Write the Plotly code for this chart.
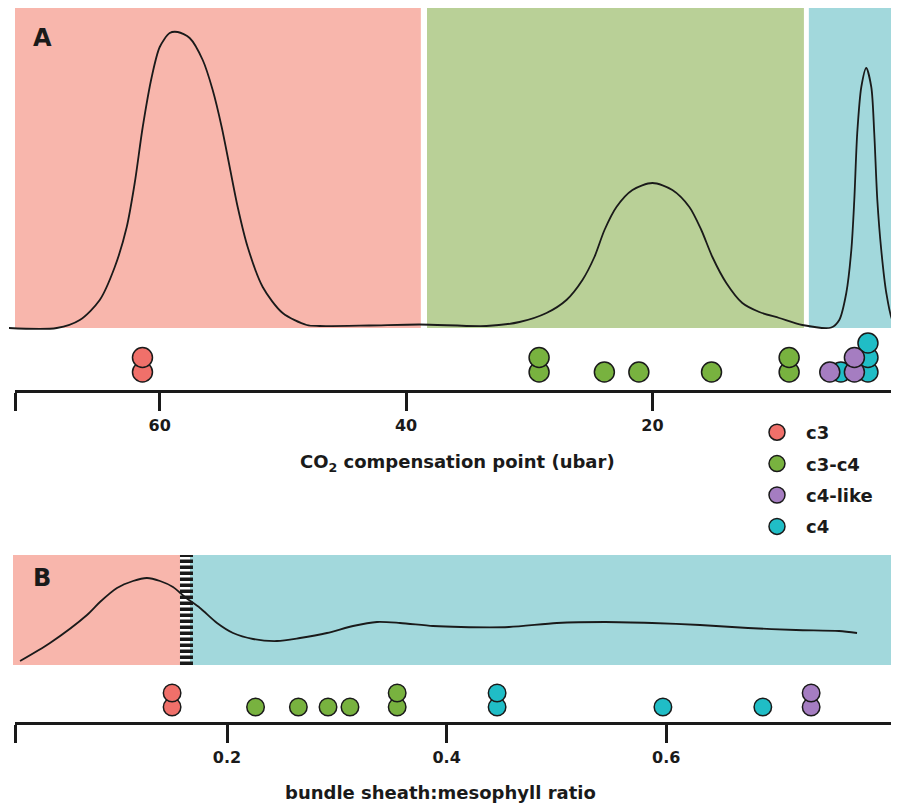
import plotly.graph_objects as go

# The page places the figure 8px from the top-left corner (body margin),
# so the figure is 8px smaller than the window and positions are shifted.
OFF = 8
W, H = 899 - OFF, 805 - OFF
FONT = "DejaVu Sans"
INK = "#1a1a1a"

# ---------------- data ----------------
classes = ["c3", "c3-c4", "c4-like", "c4"]
dot_colors = {"c3": "#F0706A", "c3-c4": "#78B23F", "c4-like": "#A57DC1", "c4": "#20BDC6"}
bg_colors = {"c3": "#F8B6AC", "c3-c4": "#B9D097", "c4": "#A2D8DC"}

# Panel A: CO2 compensation point (ubar)
co2_c3 = [61.4, 61.4]
co2_c3c4 = [29.2, 29.2, 23.9, 21.1, 15.2, 8.9, 8.9]
co2_c4like = [5.6, 3.6, 3.6]
co2_c4 = [4.7, 2.5, 2.5, 2.5]

co2_density_x = [72.25, 68.36, 66.49, 64.87, 63.65, 62.68, 62.03, 61.38, 60.65, 60.0,
                 59.19, 58.54, 57.57, 56.51, 55.70, 54.97, 54.32, 53.67, 52.86, 51.64,
                 50.02, 48.07, 47.02, 43.0, 38.9, 33.47, 30.79, 28.60, 26.98, 25.68,
                 24.71, 23.89, 22.92, 21.62, 20.0, 18.38, 17.0, 16.03, 15.13, 14.0,
                 12.70, 11.32, 9.70, 7.83, 5.48, 4.83, 4.26, 3.85, 3.61, 3.37,
                 3.04, 2.64, 2.23, 1.99, 1.74, 1.42, 1.01, 0.53, 0.04]
co2_density_y = [0, 0, 8, 28, 61, 101, 145, 201, 251, 281,
                 295, 296, 290, 268, 238, 201, 161, 121, 81, 41,
                 15, 3, 2, 2.5, 3.5, 2, 6, 15, 28, 48,
                 71, 98, 121, 138, 145, 138, 121, 98, 71, 45,
                 25, 16, 10, 3, 0.5, 8, 35, 78, 128, 195,
                 241, 260, 241, 195, 128, 78, 35, 8, 0]
co2_density_max = 320

# cluster boundaries on CO2 axis (ubar): (upper, lower, class)
co2_clusters = [(71.75, 38.8, "c3"), (38.3, 7.7, "c3-c4"), (7.3, -5.0, "c4")]

# Panel B: bundle sheath:mesophyll ratio
bsm_c3 = [0.150, 0.150]
bsm_c3c4 = [0.226, 0.265, 0.292, 0.312, 0.355, 0.355]
bsm_c4like = [0.732, 0.732]
bsm_c4 = [0.446, 0.446, 0.597, 0.688]

bsm_density_x = [0.0115, 0.0388, 0.0725, 0.0843, 0.0998, 0.1144, 0.1271, 0.1390, 0.1508, 0.1617,
                 0.1754, 0.1909, 0.2055, 0.2237, 0.2455, 0.2665, 0.2911, 0.3148, 0.3366, 0.3576,
                 0.3876, 0.4131, 0.4568, 0.5005, 0.5443, 0.5871, 0.6308, 0.6745, 0.7182, 0.7574,
                 0.7738]
bsm_density_y = [4, 22, 50, 63, 77, 84, 87, 84, 78, 68,
                 57, 42, 32, 26, 24, 27, 32, 39, 43, 42,
                 39, 38, 38, 42, 43, 42, 40, 37, 35, 34,
                 32]
bsm_density_max = 110
bsm_clusters = [(0.0051, 0.1572, "c3"), (0.1663, 0.90, "c4")]
bsm_threshold = 0.1631

co2_ticks = [60, 40, 20, 0]
bsm_ticks = [0.2, 0.4, 0.6]

# ---------------- helpers ----------------
def stack_levels(values):
    seen = {}
    out = []
    for v in values:
        out.append(seen.get(v, 0))
        seen[v] = seen.get(v, 0) + 1
    return out

def py(p):  # window pixel row -> paper fraction
    return 1 - (p - OFF) / H

def px(p):  # window pixel column -> paper fraction
    return (p - OFF) / W

# pixel calibration of the axes
A_left, A_right = 71.75, -0.02        # values at x=15 and x=899
kA = (899 - 15) / (A_left - A_right)
A_curve_left = A_left + (15 - 9) / kA
B_left, B_right = 0.2 - 212 / 1098, 0.2 + 672 / 1098
kB = 1098
B_curve_left = B_left - 3 / kB

fig = go.Figure()

# density A
fig.add_trace(go.Scatter(x=co2_density_x, y=co2_density_y, mode="lines",
                         line=dict(color=INK, width=1.8, shape="spline", smoothing=0.8),
                         xaxis="x", yaxis="y", showlegend=False, hoverinfo="skip"))
# density B
fig.add_trace(go.Scatter(x=bsm_density_x, y=bsm_density_y, mode="lines",
                         line=dict(color=INK, width=1.8, shape="spline", smoothing=0.8),
                         xaxis="x3", yaxis="y3", showlegend=False, hoverinfo="skip"))

dataA = {"c3": co2_c3, "c3-c4": co2_c3c4, "c4-like": co2_c4like, "c4": co2_c4}
dataB = {"c3": bsm_c3, "c3-c4": bsm_c3c4, "c4-like": bsm_c4like, "c4": bsm_c4}
draw_order = ["c3", "c3-c4", "c4", "c4-like"]
rank = {c: i + 1 for i, c in enumerate(classes)}

for c in draw_order:
    fig.add_trace(go.Scatter(
        x=dataA[c], y=stack_levels(dataA[c]), mode="markers", name=c,
        legendgroup=c, legendrank=rank[c], showlegend=True,
        marker=dict(size=20, color=dot_colors[c], line=dict(color=INK, width=1.5)),
        xaxis="x2", yaxis="y2", cliponaxis=False))
for c in draw_order:
    fig.add_trace(go.Scatter(
        x=dataB[c], y=stack_levels(dataB[c]), mode="markers", name=c,
        legendgroup=c, showlegend=False,
        marker=dict(size=17.5, color=dot_colors[c], line=dict(color=INK, width=1.5)),
        xaxis="x4", yaxis="y4", cliponaxis=False))

shapes = []
for hi, lo, c in co2_clusters:
    shapes.append(dict(type="rect", xref="x", yref="y", x0=hi, x1=lo, y0=0, y1=co2_density_max,
                       fillcolor=bg_colors[c], line=dict(width=0), layer="below"))
for lo, hi, c in bsm_clusters:
    shapes.append(dict(type="rect", xref="x3", yref="y3", x0=lo, x1=hi, y0=0, y1=bsm_density_max,
                       fillcolor=bg_colors[c], line=dict(width=0), layer="below"))
shapes.append(dict(type="line", xref="x3", yref="y3", x0=bsm_threshold, x1=bsm_threshold,
                   y0=0, y1=bsm_density_max, layer="below",
                   line=dict(color=INK, width=13, dash="3.5px,2.5px")))

tickfont = dict(family=FONT, size=16, color=INK, weight="bold")
axis_common = dict(showgrid=False, zeroline=False, showline=True, linecolor=INK, linewidth=3,
                   ticks="outside", ticklen=18, tickwidth=3, tickcolor=INK, tickfont=tickfont,
                   ticklabelstandoff=1)

fig.update_layout(
    width=W, height=H, autosize=False,
    margin=dict(l=0, r=0, t=0, b=0),
    paper_bgcolor="white", plot_bgcolor="rgba(0,0,0,0)",
    font=dict(family=FONT, color=INK),
    showlegend=True,
    shapes=shapes,
    xaxis=dict(domain=[px(9), 1], range=[A_curve_left, A_right], visible=False, anchor="y"),
    yaxis=dict(domain=[py(330), py(8)], range=[-2, co2_density_max], visible=False, anchor="x"),
    xaxis2=dict(domain=[px(15), 1], range=[A_left, A_right], anchor="y2",
                tickvals=[A_left - 0.05] + co2_ticks, ticktext=[""] + [str(t) for t in co2_ticks],
                **axis_common),
    yaxis2=dict(domain=[py(390), py(335)], range=[-1.241, 2.552], visible=False, anchor="x2"),
    xaxis3=dict(domain=[px(12), 1], range=[B_curve_left, B_right], visible=False, anchor="y3"),
    yaxis3=dict(domain=[py(667), py(555)], range=[-2, bsm_density_max], visible=False, anchor="x3"),
    xaxis4=dict(domain=[px(15), 1], range=[B_left, B_right], anchor="y4",
                tickvals=[B_left + 0.0005] + bsm_ticks, ticktext=[""] + [f"{t:.1f}" for t in bsm_ticks],
                **axis_common),
    yaxis4=dict(domain=[py(722), py(680)], range=[-1.071, 1.929], visible=False, anchor="x4"),
    legend=dict(x=px(748), y=py(414), xanchor="left", yanchor="top", itemwidth=48,
                bgcolor="rgba(0,0,0,0)", traceorder="grouped", tracegroupgap=5,
                font=dict(family=FONT, size=18, color=INK, weight="bold")),
    annotations=[
        dict(text="A", x=px(42), y=py(38), xref="paper", yref="paper", showarrow=False,
             xanchor="center", yanchor="middle",
             font=dict(family=FONT, size=24, color=INK, weight="bold")),
        dict(text="B", x=px(42), y=py(578), xref="paper", yref="paper", showarrow=False,
             xanchor="center", yanchor="middle",
             font=dict(family=FONT, size=24, color=INK, weight="bold")),
        dict(text="CO<sub>2</sub> compensation point (ubar)", x=px(457), y=py(463),
             xref="paper", yref="paper", showarrow=False, xanchor="center", yanchor="middle",
             font=dict(family=FONT, size=18, color=INK, weight="bold")),
        dict(text="bundle sheath:mesophyll ratio", x=px(440), y=py(792),
             xref="paper", yref="paper", showarrow=False, xanchor="center", yanchor="middle",
             font=dict(family=FONT, size=18, color=INK, weight="bold")),
    ],
)

fig.write_html("out.html")
